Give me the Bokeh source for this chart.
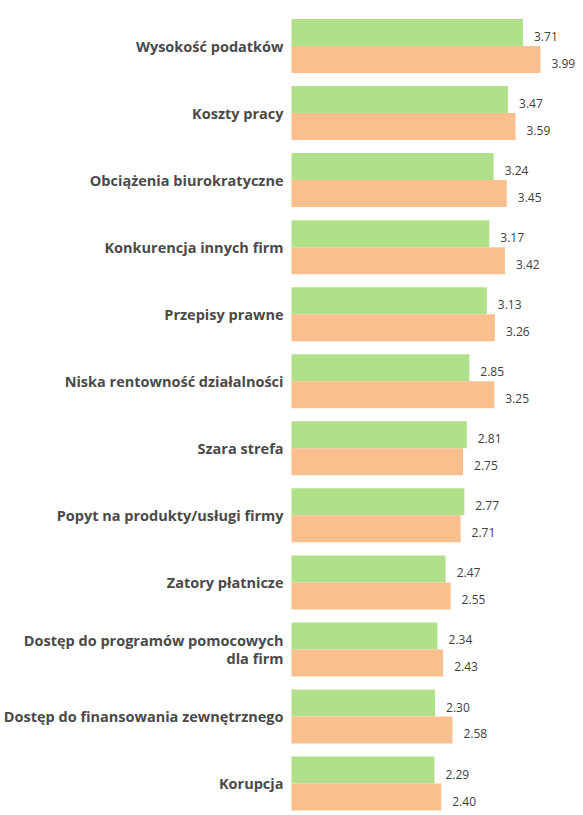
from bokeh.plotting import figure
from bokeh.models import Range1d, ColumnDataSource
from bokeh.core.properties import value
from bokeh.embed import file_html
from bokeh.resources import INLINE

categories = [
    "Wysokość podatków",
    "Koszty pracy",
    "Obciążenia biurokratyczne",
    "Konkurencja innych firm",
    "Przepisy prawne",
    "Niska rentowność działalności",
    "Szara strefa",
    "Popyt na produkty/usługi firmy",
    "Zatory płatnicze",
    "Dostęp do programów pomocowych\ndla firm",
    "Dostęp do finansowania zewnętrznego",
    "Korupcja",
]
green_values = [3.71, 3.47, 3.24, 3.17, 3.13, 2.85, 2.81, 2.77, 2.47, 2.34, 2.30, 2.29]
orange_values = [3.99, 3.59, 3.45, 3.42, 3.26, 3.25, 2.75, 2.71, 2.55, 2.43, 2.58, 2.40]

GREEN = "#b0e08a"
ORANGE = "#f9bf8f"
TEXT = "#404040"

W, H = 580, 812
px_per_unit = 62.4
left_px = 291
pitch = 67.05
top_center = 45.5
last_center = top_center + 11 * pitch

p = figure(width=W, height=H, output_backend="svg", toolbar_location=None,
           x_range=Range1d(-left_px / px_per_unit, (W - left_px) / px_per_unit),
           y_range=Range1d(11 + (H - last_center) / pitch, -top_center / pitch),
           min_border=0, min_border_left=0, min_border_right=0,
           min_border_top=0, min_border_bottom=0)
p.axis.visible = False
p.grid.visible = False
p.outline_line_color = None
p.background_fill_color = "white"
p.border_fill_color = "white"

n = len(categories)
idx = list(range(n))
half = 0.2013
src = ColumnDataSource(dict(
    idx=idx, cat=categories,
    g=green_values, o=orange_values,
    gy=[i - half for i in idx], oy=[i + half for i in idx],
    gl=[f"{v:.2f}" for v in green_values], ol=[f"{v:.2f}" for v in orange_values],
))

p.hbar(y="gy", right="g", left=0, height=2 * half, source=src, fill_color=GREEN, line_color=None)
p.hbar(y="oy", right="o", left=0, height=2 * half, source=src, fill_color=ORANGE, line_color=None)

p.text(x=0, y="idx", text="cat", source=src, x_offset=-8, text_align="right",
       text_baseline="middle", text_font=value("Open Sans"), text_font_size="14.5px",
       text_font_style="bold", text_color="#4a4a4a", text_line_height=0.95)

p.text(x="g", y="gy", text="gl", source=src, x_offset=11, y_offset=4, text_align="left",
       text_baseline="middle", text_font=value("Open Sans"), text_font_size="12px",
       text_color=TEXT)
p.text(x="o", y="oy", text="ol", source=src, x_offset=11, y_offset=4, text_align="left",
       text_baseline="middle", text_font=value("Open Sans"), text_font_size="12px",
       text_color=TEXT)

open("out.html", "w").write(file_html(p, INLINE))
